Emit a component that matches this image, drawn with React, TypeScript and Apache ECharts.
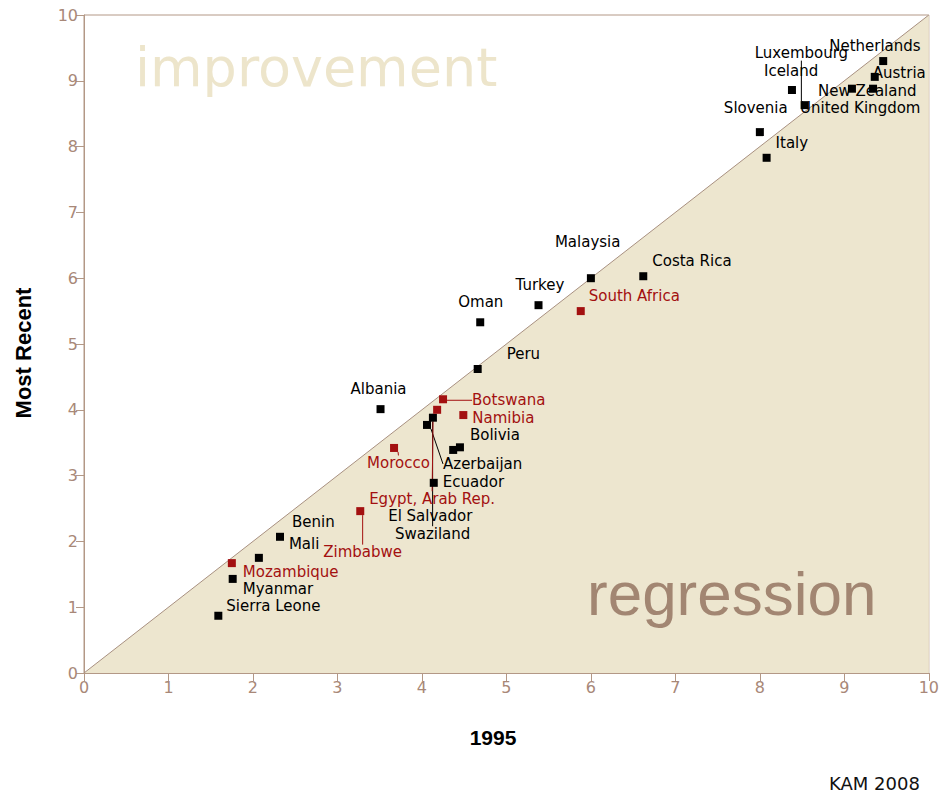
import React, { useEffect, useRef } from "react";
import * as echarts from "echarts";

// ---- data ----
const countries = [
  "Netherlands", "Austria", "New Zealand", "United Kingdom", "Luxembourg", "Iceland",
  "Slovenia", "Italy", "Malaysia", "Costa Rica", "Turkey", "South Africa", "Oman", "Peru",
  "Albania", "Botswana", "Namibia", "Egypt, Arab Rep.", "Morocco", "Bolivia", "Azerbaijan",
  "El Salvador", "Swaziland", "Ecuador", "Zimbabwe", "Benin", "Mali", "Mozambique",
  "Myanmar", "Sierra Leone",
];
const score1995 = [
  9.46, 9.36, 9.09, 9.34, 8.53, 8.38,
  8.0, 8.08, 6.0, 6.62, 5.38, 5.88, 4.69, 4.66,
  3.51, 4.25, 4.49, 4.18, 3.67, 4.45, 4.06,
  4.37, 4.13, 4.14, 3.27, 2.32, 2.07, 1.75,
  1.76, 1.59,
];
const scoreRecent = [
  9.3, 9.06, 8.88, 8.88, 8.63, 8.86,
  8.22, 7.83, 6.0, 6.03, 5.59, 5.5, 5.33, 4.62,
  4.01, 4.16, 3.92, 4.0, 3.42, 3.43, 3.77,
  3.39, 3.88, 2.89, 2.46, 2.07, 1.75, 1.67,
  1.43, 0.87,
];
const highlighted = [
  false, false, false, false, false, false,
  false, false, false, false, false, true, false, false,
  false, true, true, true, true, false, false,
  false, false, false, true, false, false, true,
  false, false,
];
const axisTicks = [0, 1, 2, 3, 4, 5, 6, 7, 8, 9, 10];

// ---- label placement (styling, in pixels relative to marker centre) ----
const labelOffsets: Record<string, [number, number]> = {
  "Netherlands": [-54, -15],
  "Austria": [-2, -4],
  "New Zealand": [-34, 2],
  "United Kingdom": [-73, 19],
  "Luxembourg": [-50, -52],
  "Iceland": [-28, -19],
  "Slovenia": [-36, -24],
  "Italy": [9, -15],
  "Malaysia": [-36, -36],
  "Costa Rica": [9, -15],
  "Turkey": [-23, -20],
  "South Africa": [8, -15],
  "Oman": [-22, -20],
  "Peru": [29, -15],
  "Albania": [-30, -20],
  "Botswana": [29, 1],
  "Namibia": [9, 3],
  "Egypt, Arab Rep.": [-68, 89],
  "Morocco": [-27, 15],
  "Bolivia": [10, -12],
  "Azerbaijan": [16, 39],
  "El Salvador": [-65, 66],
  "Swaziland": [-38, 116],
  "Ecuador": [9, -1],
  "Zimbabwe": [-37, 41],
  "Benin": [12, -15],
  "Mali": [30, -14],
  "Mozambique": [11, 9],
  "Myanmar": [10, 10],
  "Sierra Leone": [8, -10],
};
const leaderLines = ["Luxembourg", "Botswana", "Egypt, Arab Rep.", "Azerbaijan", "Swaziland", "Zimbabwe", "Morocco"];

const BLACK = "#000000";
const RED = "#a31010";
const AXIS = "#b39886";
const TICKTXT = "#a88878";

export default function App() {
  const ref = useRef<HTMLDivElement>(null);
  useEffect(() => {
    if (!ref.current) return;
    const chart = echarts.init(ref.current, undefined, { renderer: "svg" });

    const makeSeries = (red: boolean) => {
      const items: any[] = [];
      countries.forEach((name, i) => {
        if (highlighted[i] !== red) return;
        const col = red ? RED : BLACK;
        items.push({
          name,
          value: [score1995[i], scoreRecent[i]],
          labelLine: {
            show: leaderLines.includes(name),
            lineStyle: { color: col, width: 1 },
          },
        });
      });
      const col = red ? RED : BLACK;
      return {
        type: "scatter",
        symbol: "rect",
        symbolSize: 8,
        z: 5,
        itemStyle: { color: col, opacity: 1 },
        label: {
          show: true,
          formatter: "{b}",
          fontFamily: "DejaVu Sans",
          fontSize: 15,
          color: col,
        },
        labelLine: { show: false, smooth: false, length2: 0 },
        labelLayout: (p: any) => {
          const nm = items[p.dataIndex].name;
          const o = labelOffsets[nm] || [8, -10];
          return {
            x: p.rect.x + p.rect.width / 2 + o[0],
            y: p.rect.y + p.rect.height / 2 + o[1],
            align: "left",
            verticalAlign: "middle",
          };
        },
        data: items,
      };
    };

    const axisCommon = {
      type: "value",
      min: 0,
      max: 10,
      interval: 1,
      axisLine: { show: true, onZero: false, lineStyle: { color: AXIS, width: 1 } },
      axisTick: { show: true, length: 8, lineStyle: { color: AXIS, width: 1 } },
      axisLabel: {
        color: TICKTXT,
        fontFamily: "DejaVu Sans",
        fontSize: 16,
        margin: 6,
        formatter: (v: number) => (axisTicks.includes(v) ? String(v) : ""),
      },
      splitLine: { show: false },
    };

    chart.setOption({
      animation: false,
      backgroundColor: "#ffffff",
      grid: {
        left: 84,
        right: 13,
        top: 15,
        bottom: 121,
        show: true,
        borderColor: AXIS,
        borderWidth: 1,
        backgroundColor: "transparent",
      },
      xAxis: { ...axisCommon },
      yAxis: { ...axisCommon },
      graphic: {
        elements: [
          {
            type: "text",
            left: 135,
            top: 40,
            z: 3,
            style: {
              text: "improvement",
              fontFamily: "DejaVu Sans",
              fontSize: 54,
              fill: "#ede5cb",
            },
          },
          {
            type: "text",
            left: 587,
            top: 562,
            z: 3,
            style: {
              text: "regression",
              fontFamily: "Liberation Sans",
              fontSize: 62,
              fill: "#a28672",
            },
          },
          {
            type: "text",
            x: 493,
            y: 737,
            style: {
              text: "1995",
              fontFamily: "Liberation Sans",
              fontWeight: "bold",
              fontSize: 21,
              fill: "#000",
              align: "center",
              verticalAlign: "middle",
            },
          },
          {
            type: "text",
            x: 23,
            y: 353,
            rotation: Math.PI / 2,
            style: {
              text: "Most Recent",
              fontFamily: "Liberation Sans",
              fontWeight: "bold",
              fontSize: 22,
              fill: "#000",
              align: "center",
              verticalAlign: "middle",
            },
          },
          {
            type: "text",
            x: 829,
            y: 783,
            style: {
              text: "KAM 2008",
              fontFamily: "DejaVu Sans",
              fontSize: 18,
              fill: "#111",
              align: "left",
              verticalAlign: "middle",
            },
          },
        ],
      },
      series: [
        {
          type: "line",
          data: [[0, 0], [10, 10]],
          symbol: "none",
          silent: true,
          z: 0,
          zlevel: 0,
          lineStyle: { color: "#a89080", width: 1 },
          areaStyle: { color: "#ede6cf", opacity: 1 },
        },
        makeSeries(false),
        makeSeries(true),
      ],
    });
    return () => chart.dispose();
  }, []);
  return (
    <div
      ref={ref}
      style={{ position: "fixed", left: 0, top: 0, width: 942, height: 794, background: "#fff" }}
    />
  );
}
